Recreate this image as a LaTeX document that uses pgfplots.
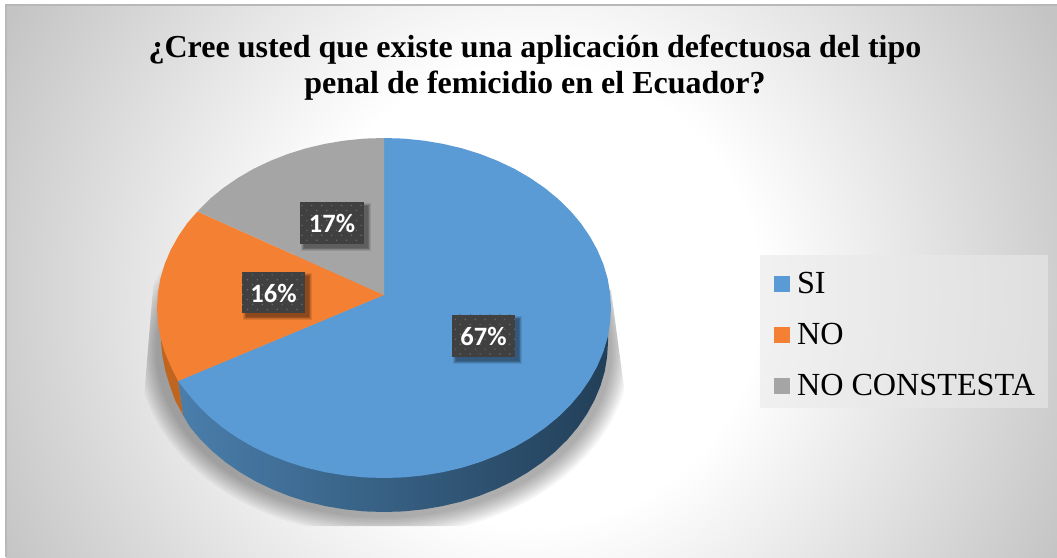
\documentclass[border=0pt]{standalone}
\usepackage{fontspec}
\setmainfont{Liberation Serif}
\newfontfamily\calibri{Carlito}
\usepackage{pgfplots}
\pgfplotsset{compat=1.18}
\usetikzlibrary{patterns.meta}
\definecolor{cSI}{HTML}{5B9BD5}
\definecolor{cNO}{HTML}{F48133}
\definecolor{cNC}{HTML}{A5A5A5}
\definecolor{sideA}{HTML}{4A7EAB}
\definecolor{sideB}{HTML}{223F58}
\definecolor{sideO}{HTML}{BF6520}
\definecolor{bgE}{HTML}{C4C4C4}
\definecolor{lgd}{HTML}{E9E9E9}
\pgfdeclareradialshading{chartbg}{\pgfpoint{0bp}{0bp}}{%
  color(0bp)=(white); color(9.75bp)=(white); color(25bp)=(bgE); color(100bp)=(bgE)}
\newcommand{\lab}[5]{% x1 y1 x2 y2 text, pixel coordinates from the top
  \foreach \s in {0,1,2,3,4}{
    \fill[black,opacity=0.10] ({#1+4-\s*0.7},{557-(#2+4-\s*0.7)}) rectangle ({#3+4+\s*0.7},{557-(#4+4+\s*0.7)});}
  \fill[fill=black!75] (#1,{557-#2}) rectangle (#3,{557-#4});
  \fill[pattern={Dots[radius=0.85pt,distance=7pt,angle=45]},pattern color=white!42!black] (#1,{557-#2}) rectangle (#3,{557-#4});
  \node[text=white,inner sep=0pt] at ({(#1+#3)/2},{557-(#2+#4)/2-0.5}) {\calibri\bfseries\fontsize{26.5}{30}\selectfont #5};
}
\begin{document}
\begin{tikzpicture}[x=1pt,y=1pt]
\path[use as bounding box] (0,0) rectangle (1057,557);
\fill[white] (0,0) rectangle (1057,557);
\begin{scope}
\clip (6,0) rectangle (1057,552);
\shade[shading=chartbg] (-60,-328) rectangle (1120,852);
\end{scope}
\draw[black!28,line width=1.2pt] (6,0) -- (6,552) -- (1057,552);
% soft shadow below the pie
\begin{scope}
\clip (157,317) -- (143,147) -- (143,31) -- (625,31) -- (627,147) -- (611,267) -- cycle;
\foreach \s in {0,...,9}{
  \fill[black,opacity=0.035] (384,{557-350}) ellipse [x radius={246-2*\s},y radius={186-2*\s}];}
\end{scope}
\fill[lgd,opacity=0.6] (760,149) rectangle (1048,302);
\begin{axis}[at={(0,0)},anchor=south west,scale only axis,width=1057pt,height=557pt,
  xmin=0,xmax=1057,ymin=0,ymax=557,y dir=reverse,hide axis,
  legend style={at={(774/1057,286/557)},anchor=north west,draw=none,fill=none,
    font=\fontsize{32.2}{36}\selectfont,inner sep=0pt,outer sep=0pt,row sep=21pt,
    nodes={inner sep=0pt,outer sep=0pt,text height=22pt,text depth=8pt}},
  legend cell align=left,
  legend image code/.code={\fill[#1] (0pt,-6pt) rectangle (16pt,10pt);\path (23pt,0pt);},
  ]
% side wall
\addplot[forget plot,draw=none,left color=sideA,middle color=sideB,right color=sideB] coordinates {
(608.0,342)(607.1,356.8)(604.7,371.5)(600.4,386.0)(594.5,400.1)(587.0,413.8)(578.0,427.0)(567.5,439.5)
(555.6,451.3)(542.4,462.2)(528.0,472.2)(512.5,481.3)(496.0,489.2)(478.6,496.1)(460.6,501.8)(441.9,506.2)
(422.9,509.4)(403.5,511.4)(384,512)(364.5,511.4)(345.1,509.4)(326.1,506.2)(307.4,501.8)(289.4,496.1)
(272.0,489.2)(255.5,481.3)(240.0,472.2)(225.6,462.2)(212.4,451.3)(200.5,439.5)(190.0,427.0)(183,415)
(178,381)(384,340)(608,320)} --cycle;
\addplot[forget plot,draw=none,fill=sideO] coordinates {
(183,415)(175,400.1)(170,386)(165.5,371.5)(162.5,356.8)(161,342)(162,320)(200,360)(178,381)} --cycle;
% top face: SI 67 %
\addplot[draw=none,fill=cSI] coordinates {
(384,295)(384.0,138.0)(403.8,138.6)(423.4,140.6)(442.7,143.8)(461.6,148.2)(479.9,153.9)(497.5,160.8)
(514.2,168.7)(529.9,177.8)(544.5,187.8)(557.9,198.7)(570.0,210.5)(580.6,223.0)(589.7,236.2)(597.3,249.9)
(603.3,264.0)(607.6,278.5)(610.1,293.2)(611.0,308.0)(610.1,322.8)(607.6,337.5)(603.3,352.0)(597.3,366.1)
(589.7,379.8)(580.6,393.0)(570.0,405.5)(557.9,417.3)(544.5,428.2)(529.9,438.2)(514.2,447.3)(497.5,455.2)
(479.9,462.1)(461.6,467.8)(442.7,472.2)(423.4,475.4)(403.8,477.4)(384.0,478.0)(364.2,477.4)(344.6,475.4)
(325.3,472.2)(306.4,467.8)(288.1,462.1)(270.5,455.2)(253.8,447.3)(238.1,438.2)(223.5,428.2)(210.1,417.3)
(198.0,405.5)(187.4,393.0)(178,381)} --cycle;
\addlegendentry{SI}
% NO 16 %
\addplot[draw=none,fill=cNO] coordinates {
(384,295)(178,381)(170.7,366.1)(164.7,352.0)(160.4,337.5)(157.9,322.8)(157,308)(157.9,293.2)(160.4,278.5)
(164.7,264)(170.7,249.9)(178.3,236.2)(187.4,223)(197.5,211.5)} --cycle;
\addlegendentry{NO}
% NO CONSTESTA 17 %
\addplot[draw=none,fill=cNC] coordinates {
(384,295)(197.5,211.5)(210.1,198.7)(223.5,187.8)(238.1,177.8)(253.8,168.7)(270.5,160.8)(288.1,153.9)
(306.4,148.2)(325.3,143.8)(344.6,140.6)(364.2,138.6)(384,138)} --cycle;
\addlegendentry{NO CONSTESTA}
\end{axis}
\lab{452}{315}{515}{357}{67\%}
\lab{300}{202}{364}{244}{17\%}
\lab{242}{272}{305}{313}{16\%}
\node[align=center,inner sep=0pt,font=\bfseries\fontsize{32}{36}\selectfont] at (535,{557-68}) {¿Cree usted que existe una aplicación defectuosa del tipo\\penal de femicidio en el Ecuador?};
\end{tikzpicture}
\end{document}
